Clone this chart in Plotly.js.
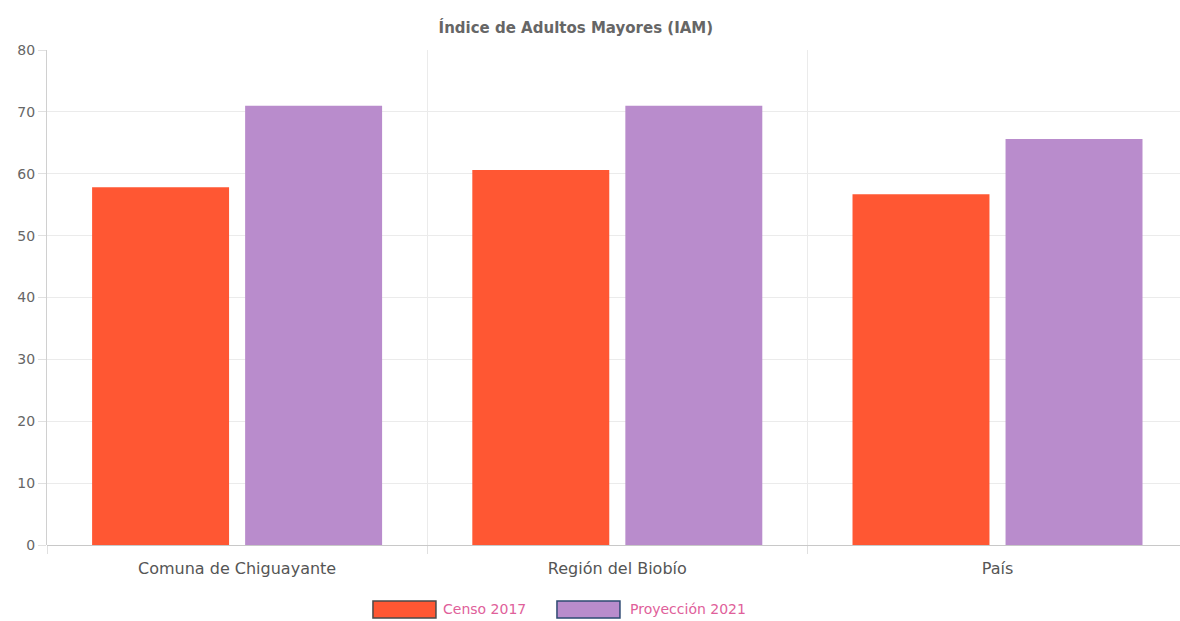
<!DOCTYPE html>
<html>
<head>
<meta charset="utf-8">
<script src="https://cdn.plot.ly/plotly-3.0.1.min.js"></script>
<style>html,body{margin:0;padding:0;background:#fff;}#chart{width:1180px;height:621px;}</style>
</head>
<body>
<div id="chart"></div>
<script>
const categories = ["Comuna de Chiguayante", "Región del Biobío", "País"];
const censo2017 = [57.8, 60.6, 56.7];
const proyeccion2021 = [71.0, 71.0, 65.6];
const seriesNames = ["Censo 2017", "Proyección 2021"];
const yTicks = [0, 10, 20, 30, 40, 50, 60, 70, 80];

const fillColors = ["#ff5733", "#b98ccc"];
const legendBorders = ["#4a4a4a", "#2e4a72"];

const traces = [
  {type: "bar", name: seriesNames[0], x: categories, y: censo2017,
   marker: {color: fillColors[0], line: {width: 0}}, hoverinfo: "x+y"},
  {type: "bar", name: seriesNames[1], x: categories, y: proyeccion2021,
   marker: {color: fillColors[1], line: {width: 0}}, hoverinfo: "x+y"}
];

// custom legend (wide boxes as in the reference)
const legendBoxes = [[0.2877, 0.3433], [0.4501, 0.5057]];
const legendTextX = [0.3477, 0.5128];
const shapes = legendBoxes.map((b, i) => ({
  type: "rect", xref: "paper", yref: "paper", x0: b[0], x1: b[1], y0: -0.1131, y1: -0.1475,
  fillcolor: fillColors[i], line: {color: legendBorders[i], width: 1.5}
}));
const annotations = seriesNames.map((n, i) => ({
  text: n, xref: "paper", yref: "paper", x: legendTextX[i], y: -0.1293,
  xanchor: "left", yanchor: "middle", showarrow: false,
  font: {size: 14, color: "#e0609a", family: "DejaVu Sans, sans-serif"}
}));

const layout = {
  width: 1180, height: 621,
  margin: {l: 47, r: 0, t: 50, b: 76},
  paper_bgcolor: "#fff", plot_bgcolor: "#fff",
  font: {family: "DejaVu Sans, sans-serif", color: "#666", size: 12},
  title: {text: "<b>Índice de Adultos Mayores (IAM)</b>", x: 0.488, xanchor: "center",
          y: 0.955, yanchor: "middle", font: {size: 15, color: "#666"}},
  barmode: "group", bargap: 0.195, bargroupgap: 0.105,
  xaxis: {type: "category", range: [-0.5, 2.48], tickson: "boundaries",
          showgrid: true, gridcolor: "#ebebeb", gridwidth: 1,
          ticks: "outside", ticklen: 8, tickcolor: "#e0e0e0", ticklabelstandoff: 12,
          showline: false, tickfont: {size: 16, color: "#555"}, fixedrange: true},
  yaxis: {range: [0, 80], tickvals: yTicks, showgrid: true, gridcolor: "#ebebeb",
          gridwidth: 1, zeroline: true, zerolinecolor: "#c8c8c8", zerolinewidth: 1,
          showline: true, linecolor: "#d0d0d0", linewidth: 1,
          ticks: "outside", ticklen: 8, tickcolor: "#e0e0e0",
          tickfont: {size: 14, color: "#666"}, fixedrange: true},
  shapes: shapes,
  annotations: annotations,
  showlegend: false
};

Plotly.newPlot("chart", traces, layout, {displayModeBar: false, staticPlot: true});
</script>
</body>
</html>
